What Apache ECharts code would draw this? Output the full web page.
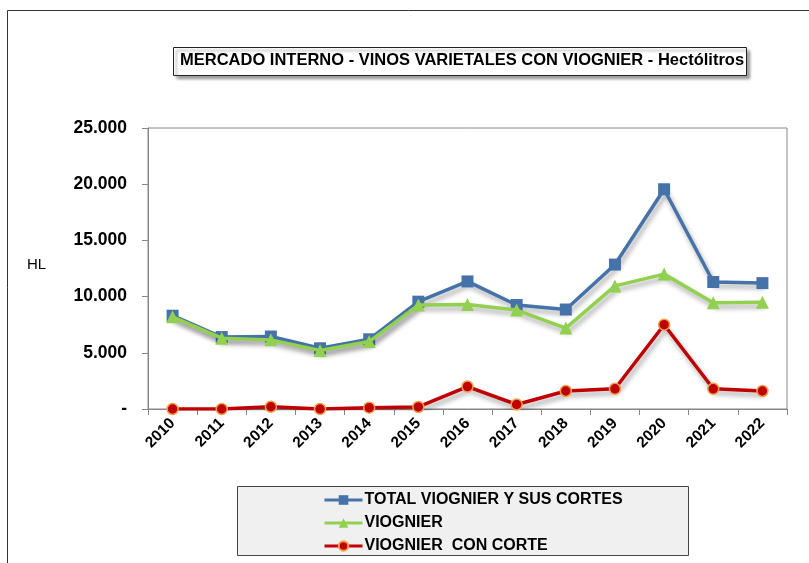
<!DOCTYPE html>
<html>
<head>
<meta charset="utf-8">
<script src="https://cdn.jsdelivr.net/npm/echarts@6/dist/echarts.min.js"></script>
<style>
    html, body { margin: 0; padding: 0; background: #fff; }
    #chart { width: 809px; height: 563px; }
</style>
</head>
<body>
<div id="chart"></div>
<script>
// chart data
const years = ["2010", "2011", "2012", "2013", "2014", "2015", "2016", "2017", "2018", "2019", "2020", "2021", "2022"];
const totalViognier = [8300, 6400, 6450, 5400, 6200, 9550, 11350, 9250, 8850, 12850, 19550, 11300, 11200];
const viognier = [8200, 6300, 6150, 5200, 6000, 9250, 9300, 8800, 7200, 10950, 12000, 9450, 9500];
const viognierCorte = [0, 0, 200, 0, 120, 180, 2000, 400, 1600, 1800, 7500, 1800, 1600];

const FONT = "'Liberation Sans Narrow', 'Liberation Sans', sans-serif";

function fmtHL(v) {
    if (v === 0) return "-";
    return v.toLocaleString("de-DE");
}

document.addEventListener("DOMContentLoaded", function () {
    const myChart = echarts.init(document.getElementById("chart"));

    const shadow = {
        shadowColor: "rgba(0,0,0,0.35)",
        shadowBlur: 5,
        shadowOffsetX: 2,
        shadowOffsetY: 4,
    };

    const option = {
        animation: false,
        textStyle: { fontFamily: FONT },
        graphic: [
            {
                // outer frame
                type: "rect",
                shape: { x: 7.5, y: 10.5, width: 900, height: 700 },
                style: { fill: "none", stroke: "#333", lineWidth: 1 },
            },
            {
                // title box
                type: "rect",
                shape: { x: 173.5, y: 47.5, width: 573, height: 28 },
                style: {
                    fill: "#fff",
                    stroke: "#222",
                    lineWidth: 1,
                    shadowColor: "rgba(0,0,0,0.4)",
                    shadowBlur: 3,
                    shadowOffsetX: 3,
                    shadowOffsetY: 3,
                },
            },
            {
                type: "text",
                left: 180,
                top: 52,
                style: {
                    text: "MERCADO INTERNO - VINOS VARIETALES CON VIOGNIER - Hectólitros",
                    font: "bold 16.5px " + FONT,
                    fill: "#000",
                },
                z: 10,
            },
            {
                type: "text",
                left: 27,
                top: 257,
                style: { text: "HL", font: "15px " + FONT, fill: "#000" },
            },
            {
                // legend box
                type: "rect",
                shape: { x: 237.5, y: 486.5, width: 451, height: 69 },
                style: { fill: "#f0f0f0", stroke: "#444", lineWidth: 1 },
                z: 0,
            },
        ],
        legend: {
            orient: "vertical",
            left: 318,
            top: 487,
            itemGap: 7,
            itemWidth: 38,
            itemHeight: 12,
            lineStyle: { width: 3 },
            textStyle: { fontFamily: FONT, fontWeight: "bold", fontSize: 16, color: "#000", padding: [0, 0, 0, -3] },
            data: ["TOTAL VIOGNIER Y SUS CORTES", "VIOGNIER", "VIOGNIER  CON CORTE"],
        },
        grid: {
            left: 148,
            right: 22,
            top: 128,
            bottom: 154,
            show: true,
            borderColor: "#868686",
            borderWidth: 1,
        },
        xAxis: {
            type: "category",
            data: years,
            boundaryGap: true,
            axisLine: { lineStyle: { color: "#868686" } },
            axisTick: { show: true, alignWithLabel: false, length: 6, lineStyle: { color: "#868686" } },
            axisLabel: {
                rotate: 45,
                fontFamily: FONT,
                fontWeight: "bold",
                fontSize: 15.5,
                color: "#000",
                margin: 12,
            },
        },
        yAxis: {
            type: "value",
            min: 0,
            max: 25000,
            interval: 5000,
            axisLine: { show: true, lineStyle: { color: "#868686" } },
            axisTick: { show: true, length: 6, lineStyle: { color: "#868686" } },
            splitLine: { show: false },
            axisLabel: {
                formatter: fmtHL,
                fontFamily: FONT,
                fontWeight: "bold",
                fontSize: 17.5,
                color: "#000",
                margin: 21,
            },
        },
        series: [
            {
                name: "TOTAL VIOGNIER Y SUS CORTES",
                type: "line",
                data: totalViognier,
                symbol: "rect",
                symbolSize: 12,
                itemStyle: { color: "#4672aa" },
                lineStyle: Object.assign({ color: "#4672aa", width: 3.5 }, shadow),
                z: 3,
            },
            {
                name: "VIOGNIER",
                type: "line",
                data: viognier,
                symbol: "triangle",
                symbolSize: 13,
                itemStyle: { color: "#92d050" },
                lineStyle: Object.assign({ color: "#92d050", width: 3.5 }, shadow),
                z: 4,
            },
            {
                name: "VIOGNIER  CON CORTE",
                type: "line",
                data: viognierCorte,
                symbol: "circle",
                symbolSize: 11,
                itemStyle: { color: "#c00000", borderColor: "#f0a050", borderWidth: 1.5 },
                lineStyle: Object.assign({ color: "#c00000", width: 3.5 }, shadow),
                z: 5,
            },
        ],
    };

    option && myChart.setOption(option);
});
</script>
</body>
</html>
